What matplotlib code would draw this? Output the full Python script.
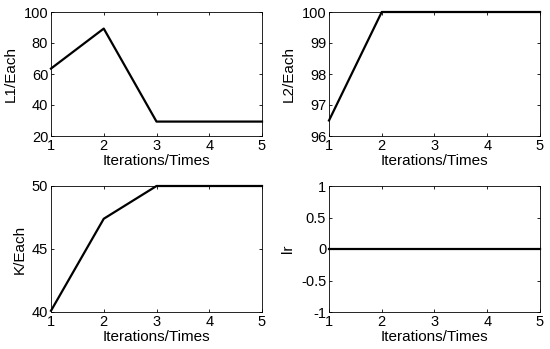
import numpy as np
from matplotlib import pyplot as plt

plt.rcParams['font.family'] = ['Liberation Sans', 'DejaVu Sans']

iters = [1, 2, 3, 4, 5]
l1_each = [63.5, 89.3, 29.3, 29.3, 29.3]
l2_each = [96.5, 100, 100, 100, 100]
k_each = [40.1, 47.4, 50, 50, 50]
lr_vals = [0, 0, 0, 0, 0]

panels = [
	(l1_each, 'L1/Each', (20, 100), [20, 40, 60, 80, 100], None),
	(l2_each, 'L2/Each', (96, 100), [96, 97, 98, 99, 100], None),
	(k_each, 'K/Each', (40, 50), [40, 45, 50], None),
	(lr_vals, 'lr', (-1, 1), [-1, -0.5, 0, 0.5, 1], ['-1', '-0.5', '0', '0.5', '1']),
]

# axes boxes in pixels: left, top, right, bottom
boxes = [(51, 12, 262, 136), (329, 12, 540, 136), (51, 186, 262, 312), (329, 186, 540, 312)]

W, H = 550, 349
fig = plt.figure(figsize=(W/100, H/100), dpi=100)

for (vals, ylab, ylim, yticks, ylabels), (l, t, r, b) in zip(panels, boxes):
	ax = fig.add_axes([l/W, 1 - b/H, (r-l)/W, (b-t)/H])
	ax.plot(iters, vals, color='black', linewidth=1.6, clip_on=False, zorder=3)
	ax.set_xlim(1, 5)
	ax.set_ylim(*ylim)
	ax.set_xticks(iters)
	ax.set_yticks(yticks)
	if ylabels is not None:
		ax.set_yticklabels(ylabels)
	ax.tick_params(direction='in', top=True, right=True, length=2.5, width=0.6, labelsize=10.5, pad=2)
	ax.set_xlabel('Iterations/Times', fontsize=11, labelpad=1)
	ax.set_ylabel(ylab, fontsize=11, labelpad=4)
	for s in ax.spines.values():
		s.set_linewidth(0.6)

fig.savefig('out.png', dpi=100)
